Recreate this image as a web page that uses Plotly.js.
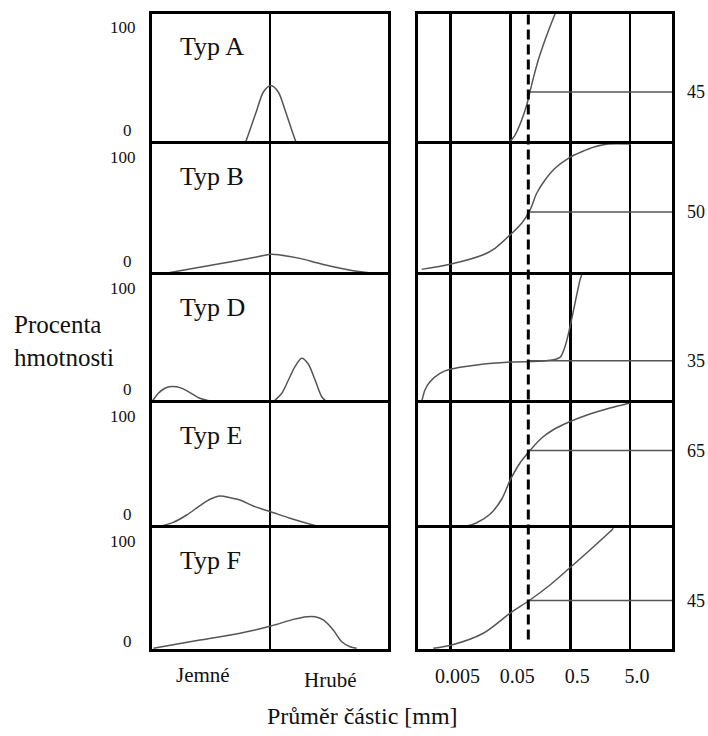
<!DOCTYPE html>
<html><head><meta charset="utf-8">
<script src="https://cdn.plot.ly/plotly-3.0.1.min.js"></script>
<style>html,body{margin:0;padding:0;background:#fff}#chart{width:708px;height:736px}</style>
</head><body><div id="chart"></div>
<script>
// ---------- data ----------
const typeNames = ['Typ A', 'Typ B', 'Typ D', 'Typ E', 'Typ F'];

// left column: distribution curves (x: 0 = jemné ... 100 = hrubé, y: % hmotnosti)
const distA_x = [39.4, 41.5, 44.4, 47.2, 50.4, 53.5, 56.4, 59.2, 61.3];
const distA_y = [0, 10.8, 26, 40, 45, 40, 26, 10.8, 0];
const distB_x = [4.1, 27.4, 41.5, 50.4, 54.2, 62.7, 69.8, 76.8, 85.3, 93.8];
const distB_y = [0.8, 8.2, 12.7, 15.8, 15.3, 12.7, 9.4, 6.3, 3.3, 1.3];
const distD_x = [0.3, 2.7, 5.5, 8.3, 11.9, 15.4, 20.3, 26, null, 51.4, 55, 57.8, 60.6, 63.4, 66.2, 69.1, 71.9, 74];
const distD_y = [1.8, 7.6, 11.5, 12.8, 12, 8.9, 3.7, 1, null, 1, 7.6, 18, 28.4, 34.9, 30.5, 18, 4.9, 1];
const distE_x = [1.3, 9, 14.7, 20.3, 24.6, 28.8, 33.1, 37.3, 42.9, 50.3, 58.5, 65.6, 71.2, 76.8];
const distE_y = [0.3, 4.5, 10.4, 17.9, 23, 25.6, 24.3, 22.4, 17.6, 13, 7.8, 3.8, 1, 0];
const distF_x = [0.6, 20.3, 37.3, 50.4, 59.9, 65.5, 69.1, 72.6, 76.8, 80.4, 83.9, 86.7];
const distF_y = [0.6, 7.4, 13, 19, 24.5, 26.7, 26.7, 24, 15.7, 6, 1.9, 0.6];

// right column: cumulative curves (x: průměr částic [mm], y: % propadu)
const cumA_d = [0.0463, 0.06, 0.0775, 0.094, 0.1066, 0.121, 0.1466, 0.19, 0.23, 0.279];
const cumA_p = [0.5, 6.9, 18.5, 30, 40.2, 50.5, 64.6, 80, 90.2, 100];
const cumB_d = [0.00166, 0.00492, 0.0177, 0.0278, 0.0494, 0.0775, 0.1066, 0.138, 0.19, 0.279, 0.465, 0.778, 1.297, 2.16, 5.18];
const cumB_p = [4.3, 8.2, 15.5, 20.4, 30.5, 39.5, 49.5, 62.4, 72.5, 81.5, 89.1, 94.1, 97.9, 100, 100];
const cumD_d = [0.00166, 0.00188, 0.00228, 0.00335, 0.00492, 0.01374, 0.0494, 0.2026, 0.338, 0.409, 0.483, 0.601, 0.729, 0.778];
const cumD_p = [1, 10.2, 16.6, 23.2, 26.3, 29.7, 32, 33, 35.7, 44, 57, 77.9, 96, 100];
const cumE_d = [0.00492, 0.0094, 0.0135, 0.0229, 0.0359, 0.0494, 0.0726, 0.1066, 0.167, 0.261, 0.478, 1.068, 2.31, 4.98];
const cumE_p = [0.3, 1.6, 4, 11, 23, 38, 52, 62, 72, 78.6, 84.8, 91.2, 96, 100];
const cumF_d = [0.00259, 0.00526, 0.0177, 0.0494, 0.1066, 0.23, 0.483, 1.07, 2.47, 2.62];
const cumF_p = [0.6, 3.3, 13, 29.5, 40.5, 52.9, 66.7, 81.8, 98.3, 99.8];

const sieveSize = 0.1;                       // dashed line [mm]
const passAtSieve = [40, 48, 33, 62, 40];    // horizontal lines
const passLabels = ['45', '50', '35', '65', '45'];
const sizeTicks = [0.005, 0.05, 0.5, 5];
const sizeTickText = ['0.005', '0.05', '0.5', '5.0'];
const coarseLabels = ['Jemné', 'Hrubé'];
const yLabelText = 'Procenta<br>hmotnosti';
const xLabelText = 'Průměr částic [mm]';

// ---------- layout helpers ----------
const W = 708, H = 736;
const rowPx = [14, 144, 275, 403, 528, 649];
const leftPx = [152, 388], rightPx = [418, 672];
const px2x = p => p / W, px2y = p => 1 - p / H;
const logRange = [-2.842, 1.399];
const serif = "'Liberation Serif', 'Times New Roman', Times, serif";
const curveLine = {color: '#555', width: 1.5, shape: 'spline', smoothing: 0.8};

const distX = [distA_x, distB_x, distD_x, distE_x, distF_x];
const distY = [distA_y, distB_y, distD_y, distE_y, distF_y];
const cumD = [cumA_d, cumB_d, cumD_d, cumE_d, cumF_d];
const cumP = [cumA_p, cumB_p, cumD_p, cumE_p, cumF_p];

const frame = {showline: true, linecolor: '#000', linewidth: 3,
  zeroline: false, ticks: '', fixedrange: true};

const traces = [];
const layout = {
  width: W, height: H, margin: {l: 0, r: 0, t: 0, b: 0},
  paper_bgcolor: '#fff', plot_bgcolor: 'rgba(0,0,0,0)', showlegend: false,
  font: {family: serif, color: '#111'},
  annotations: []
};

for (let i = 0; i < 5; i++) {
  const yDom = [px2y(rowPx[i + 1]), px2y(rowPx[i])];
  const L = i + 1, R = i + 6;
  const last = i === 4;
  layout['xaxis' + L] = Object.assign({}, frame, {
    domain: [px2x(leftPx[0]), px2x(leftPx[1])], range: [0, 100],
    side: last ? 'bottom' : 'top', mirror: last,
    tickvals: [50], showgrid: true, gridcolor: '#000', gridwidth: 2.5,
    showticklabels: false, anchor: 'y' + L});
  layout['yaxis' + L] = Object.assign({}, frame, {mirror: true,
    domain: yDom, range: [0, 100], showgrid: false, showticklabels: false, anchor: 'x' + L});
  layout['xaxis' + R] = Object.assign({}, frame, {
    domain: [px2x(rightPx[0]), px2x(rightPx[1])], type: 'log', range: logRange,
    side: last ? 'bottom' : 'top', mirror: last,
    tickvals: sizeTicks, ticktext: sizeTickText, showgrid: true, gridcolor: '#000', gridwidth: 2.8,
    showticklabels: last, tickfont: {family: serif, size: 20, color: '#111'},
    ticklabelstandoff: 7, ticklabelshift: 7, anchor: 'y' + R});
  layout['yaxis' + R] = Object.assign({}, frame, {mirror: true,
    domain: yDom, range: [0, 100], showgrid: false, showticklabels: false, anchor: 'x' + R});

  traces.push({x: distX[i], y: distY[i], xaxis: 'x' + L, yaxis: 'y' + L, mode: 'lines',
    line: curveLine, connectgaps: false, hoverinfo: 'skip'});
  traces.push({x: cumD[i], y: cumP[i], xaxis: 'x' + R, yaxis: 'y' + R, mode: 'lines',
    line: curveLine, hoverinfo: 'skip'});
  traces.push({x: [sieveSize, Math.pow(10, logRange[1])], y: [passAtSieve[i], passAtSieve[i]],
    xaxis: 'x' + R, yaxis: 'y' + R, mode: 'lines', line: {color: '#555', width: 1.5}, hoverinfo: 'skip'});

  layout.annotations.push({text: typeNames[i], xref: 'x' + L + ' domain', yref: 'y' + L + ' domain',
    x: 0.11, y: 1, yshift: -32, xanchor: 'left', yanchor: 'middle', showarrow: false,
    font: {family: serif, size: 26, color: '#111'}});
  layout.annotations.push({text: '100', xref: 'paper', yref: 'y' + L + ' domain',
    x: px2x(138), y: 1, yshift: -13, xanchor: 'right', yanchor: 'middle', showarrow: false,
    font: {family: serif, size: 17, color: '#111'}});
  layout.annotations.push({text: '0', xref: 'paper', yref: 'y' + L + ' domain',
    x: px2x(134), y: 0, yshift: last ? 8 : 14, xanchor: 'right', yanchor: 'middle', showarrow: false,
    font: {family: serif, size: 17, color: '#111'}});
  layout.annotations.push({text: passLabels[i], xref: 'paper', yref: 'y' + R,
    x: px2x(696), y: passAtSieve[i], xanchor: 'center', yanchor: 'middle', showarrow: false,
    font: {family: serif, size: 18, color: '#111'}});
}

// overlay subplot for the dashed sieve line spanning the whole right column
layout.xaxis11 = {domain: [px2x(rightPx[0]), px2x(rightPx[1])], type: 'log', range: logRange,
  visible: false, fixedrange: true, anchor: 'y11'};
layout.yaxis11 = {domain: [px2y(rowPx[5]), px2y(rowPx[0])], range: [0, 100],
  visible: false, fixedrange: true, anchor: 'x11'};
traces.push({x: [sieveSize, sieveSize], y: [1.5, 100], xaxis: 'x11', yaxis: 'y11', mode: 'lines',
  line: {color: '#000', width: 3, dash: '10px,5px'}, hoverinfo: 'skip'});

layout.annotations.push({text: yLabelText, xref: 'paper', yref: 'paper', x: px2x(12), y: px2y(341),
  xanchor: 'left', yanchor: 'middle', align: 'left', showarrow: false,
  font: {family: serif, size: 25, color: '#111'}});
layout.annotations.push({text: coarseLabels[0], xref: 'paper', yref: 'paper', x: px2x(203), y: px2y(675),
  xanchor: 'center', yanchor: 'middle', showarrow: false, font: {family: serif, size: 21, color: '#111'}});
layout.annotations.push({text: coarseLabels[1], xref: 'paper', yref: 'paper', x: px2x(330), y: px2y(680),
  xanchor: 'center', yanchor: 'middle', showarrow: false, font: {family: serif, size: 21, color: '#111'}});
layout.annotations.push({text: xLabelText, xref: 'paper', yref: 'paper', x: px2x(362), y: px2y(716),
  xanchor: 'center', yanchor: 'middle', showarrow: false, font: {family: serif, size: 24, color: '#111'}});

Plotly.newPlot('chart', traces, layout, {staticPlot: true, displayModeBar: false});
</script></body></html>
